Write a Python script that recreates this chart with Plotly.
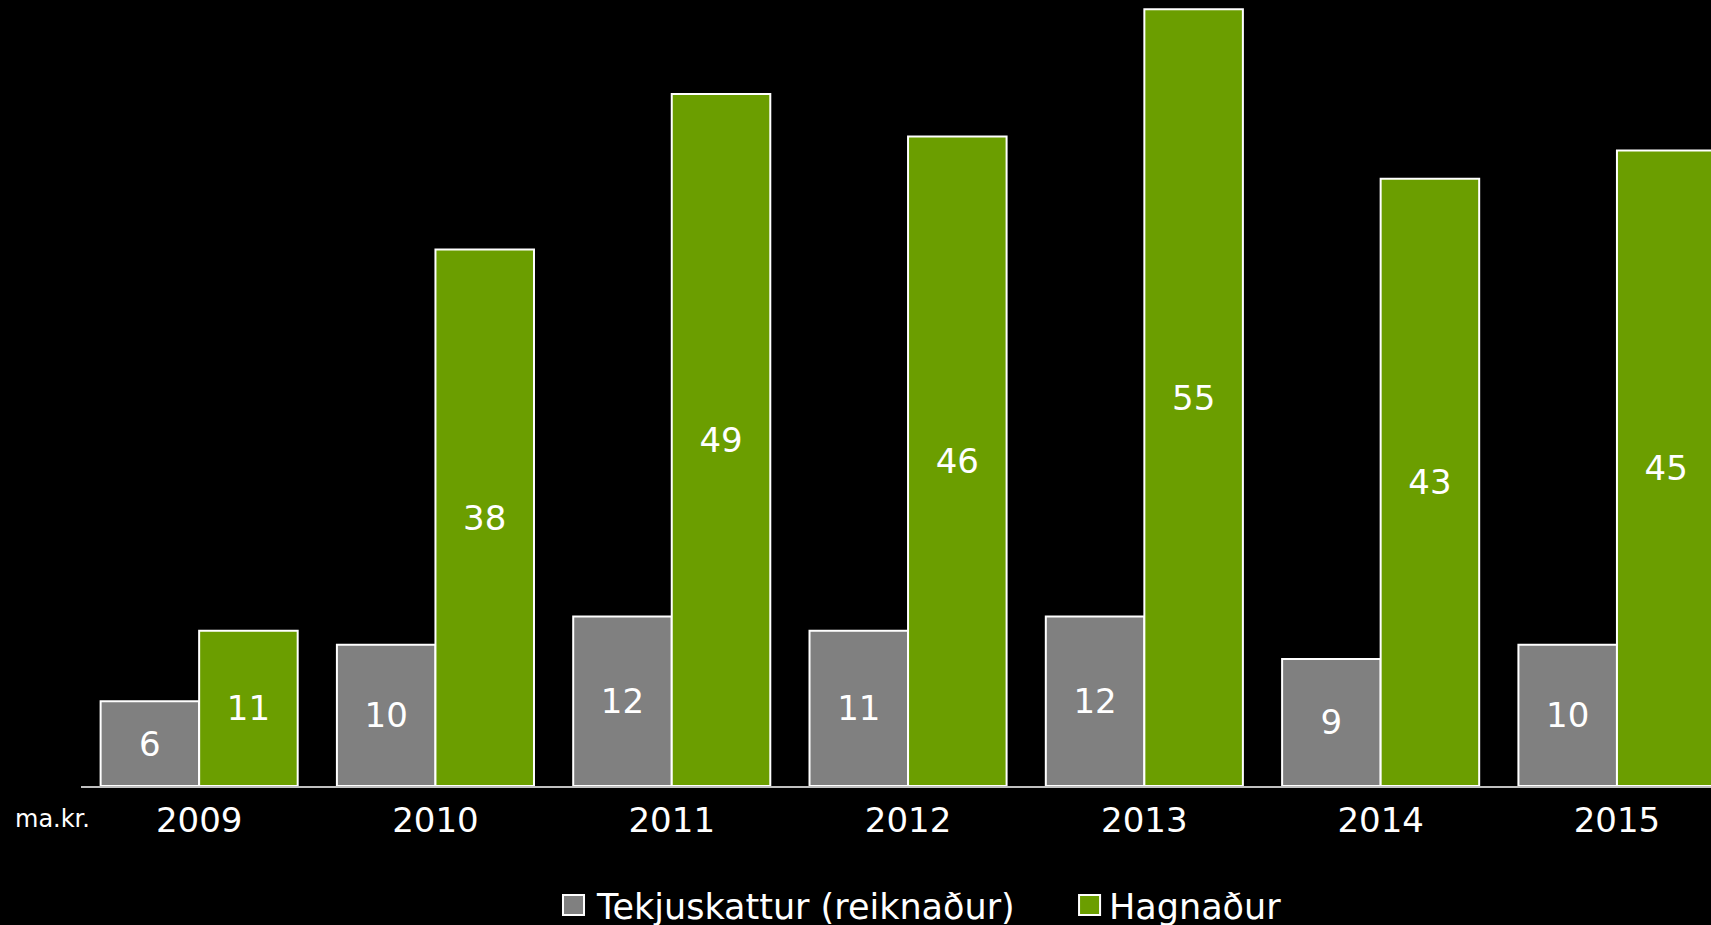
import plotly.graph_objects as go

years = ["2009", "2010", "2011", "2012", "2013", "2014", "2015"]
tekjuskattur = [6, 10, 12, 11, 12, 9, 10]
hagnadur = [11, 38, 49, 46, 55, 43, 45]
series_names = ["Tekjuskattur (reiknaður)", "Hagnaður"]
series_colors = ["#808080", "#6B9E00"]
unit_label = "ma.kr."

FONT = "Verdana, DejaVu Sans, sans-serif"

fig = go.Figure()
for vals, name, color in zip([tekjuskattur, hagnadur], series_names, series_colors):
    fig.add_trace(go.Bar(
        x=years, y=vals, name=name, showlegend=False,
        marker=dict(color=color, line=dict(color="white", width=2)),
        text=[str(v) for v in vals], textposition="inside",
        insidetextanchor="middle", textangle=0, constraintext="none",
        textfont=dict(color="white", size=34, family=FONT),
    ))

# Legend drawn as swatches + labels below the axis (cut by page bottom like the original)
legend_swatch_x = [(0.2957, 0.3086), (0.6123, 0.6252)]
legend_text_x = [0.3148, 0.6295]
for name, color, (sx0, sx1), tx in zip(series_names, series_colors, legend_swatch_x, legend_text_x):
    fig.add_shape(
        type="rect", xref="paper", yref="paper", x0=sx0, x1=sx1,
        y0=-0.1641, y1=-0.1387, fillcolor=color,
        line=dict(color="white", width=2),
    )
    fig.add_annotation(
        text=name, xref="paper", yref="paper", x=tx, y=-0.154,
        xanchor="left", yanchor="middle", showarrow=False,
        font=dict(color="white", size=35, family=FONT),
    )

fig.add_annotation(
    text=unit_label, xref="paper", yref="paper", x=-0.0417, y=-0.042,
    xanchor="left", yanchor="middle", showarrow=False,
    font=dict(color="white", size=24, family=FONT),
)

fig.update_layout(
    width=1711, height=925,
    paper_bgcolor="black", plot_bgcolor="black",
    margin=dict(l=81, r=0, t=0, b=139),
    barmode="group", bargap=0.166, bargroupgap=0,
    showlegend=False,
    xaxis=dict(
        range=[-0.5, 6.398], showgrid=False, zeroline=False,
        showline=True, linecolor="#BFBFBF", linewidth=2,
        ticks="", tickfont=dict(color="white", size=34, family=FONT),
        ticklabelstandoff=3,
    ),
    yaxis=dict(range=[0, 55.66], visible=False, showgrid=False, zeroline=False),
)

fig.write_html(
    "out.html",
    config={"displayModeBar": False},
    post_script="document.body.style.margin='0';document.body.style.background='black';document.body.style.overflow='hidden';",
)
